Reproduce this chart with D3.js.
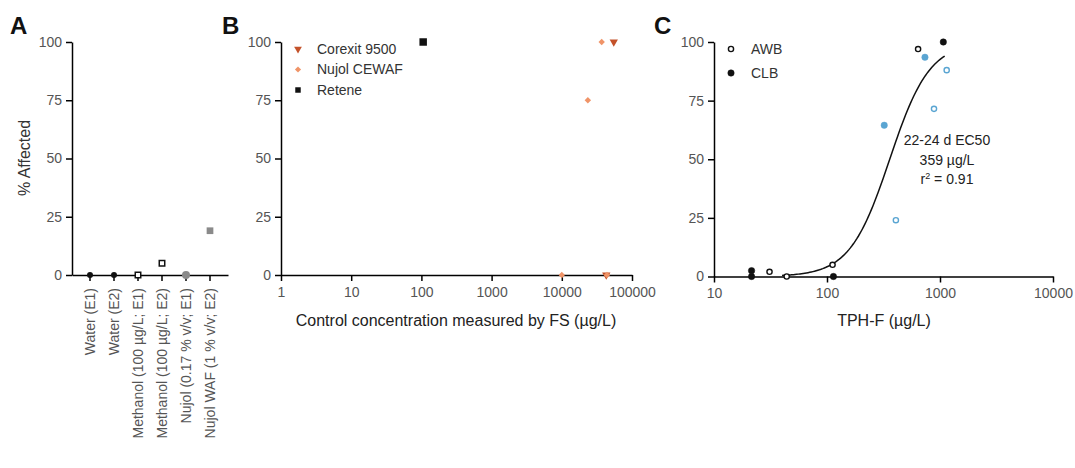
<!DOCTYPE html>
<html>
<head>
<meta charset="utf-8">
<script src="https://cdn.jsdelivr.net/npm/d3@7"></script>
<style>
  body { margin: 0; background: #fff; }
  svg { font-family: "Liberation Sans", Arial, sans-serif; }
  .axis path, .axis line { stroke: #000; stroke-width: 1.5px; }
  .axis text { fill: #555; font-size: 14px; }
</style>
</head>
<body>
<svg id="drawing_region" width="1075" height="468"></svg>
<script>
// ---- panel A ----
const catLabels = ["Water (E1)", "Water (E2)", "Methanol (100 \u00b5g/L; E1)",
  "Methanol (100 \u00b5g/L; E2)", "Nujol (0.17 % v/v; E1)", "Nujol WAF (1 % v/v; E2)"];
const catValues = [0, 0, 0, 5, 0, 19];

// ---- panel B ----
const corexitX = [55000, 43000];
const corexitY = [100, 0];
const nujolX = [37000, 23500, 10000, 44000];
const nujolY = [100, 75, 0, 0];
const reteneX = [106];
const reteneY = [100];
const bTicks = [1, 10, 100, 1000, 10000, 100000];

// ---- panel C ----
const awbBlackX = [31, 44, 112, 640];
const awbBlackY = [2, 0, 5, 97];
const clbBlackX = [21.5, 21.5, 114, 1070];
const clbBlackY = [2.5, 0, 0, 100];
const awbBlueX = [407, 885, 1146];
const awbBlueY = [24, 71.5, 88];
const clbBlueX = [321, 736];
const clbBlueY = [64.5, 93.5];
const cTicks = [10, 100, 1000, 10000];
const ec50 = 359, hill = 2.46;
const fitRange = [40, 1100];
const yTicks = [0, 25, 50, 75, 100];

const svg = d3.select("#drawing_region");
const black = "#111", grey = "#8a8a8a", blue = "#5aa5d2";
const corexitCol = "#c4522a", nujolCol = "#f09468";

const zip = (xs, ys) => xs.map((x, i) => ({x: x, y: ys[i]}));

function yAxis(g, scale, x) {
    g.append("g").attr("class", "axis")
        .attr("transform", `translate(${x},0)`)
        .call(d3.axisLeft(scale).tickValues(yTicks).tickSize(6).tickSizeOuter(0).tickPadding(4));
}

function panelLetter(t, x, y) {
    svg.append("text").attr("x", x).attr("y", y)
        .attr("font-size", "24px").attr("font-weight", "bold").attr("fill", "#111")
        .text(t);
}

// ================= A =================
const ya = d3.scaleLinear().domain([0, 100]).range([275, 42]);
const xa = d3.scaleBand().domain(catLabels).range([72, 228]).paddingInner(0).paddingOuter(0.25);

const gA = svg.append("g");
const xAxisA = gA.append("g").attr("class", "axis")
    .attr("transform", "translate(0,275)")
    .call(d3.axisBottom(xa).tickSize(6).tickSizeOuter(0).tickPadding(4));
xAxisA.selectAll("text")
    .attr("transform", "rotate(-90)")
    .attr("text-anchor", "end")
    .attr("x", -13).attr("y", 0).attr("dy", "0.35em")
    .attr("font-size", "15px").attr("fill", "#111");
yAxis(gA, ya, 72);

panelLetter("A", 10, 34);
gA.append("text")
    .attr("transform", "translate(30,158) rotate(-90)")
    .attr("text-anchor", "middle").attr("font-size", "16px").attr("fill", "#333")
    .text("% Affected");

const aStyle = [
    {shape: d3.symbolCircle, size: 28, fill: black, stroke: "none"},
    {shape: d3.symbolCircle, size: 28, fill: black, stroke: "none"},
    {shape: d3.symbolSquare, size: 30, fill: "#fff", stroke: black},
    {shape: d3.symbolSquare, size: 30, fill: "#fff", stroke: black},
    {shape: d3.symbolCircle, size: 50, fill: grey, stroke: "none"},
    {shape: d3.symbolSquare, size: 45, fill: grey, stroke: "none"}
];
gA.selectAll("path.pt").data(catValues).enter().append("path")
    .attr("class", "pt")
    .attr("transform", (d, i) => `translate(${xa(catLabels[i]) + xa.bandwidth() / 2},${ya(d)})`)
    .attr("d", (d, i) => d3.symbol(aStyle[i].shape, aStyle[i].size)())
    .attr("fill", (d, i) => aStyle[i].fill)
    .attr("stroke", (d, i) => aStyle[i].stroke)
    .attr("stroke-width", 1.5);

// ================= B =================
const xb = d3.scaleLog().domain([1, 100000]).range([281, 632]);
const yb = ya;
const gB = svg.append("g");
gB.append("g").attr("class", "axis")
    .attr("transform", "translate(0,275)")
    .call(d3.axisBottom(xb).tickValues(bTicks).tickFormat(d3.format("d")).tickSize(6).tickSizeOuter(0).tickPadding(6));
yAxis(gB, yb, 281);
panelLetter("B", 222, 34);
gB.append("text").attr("x", 456).attr("y", 326)
    .attr("text-anchor", "middle").attr("font-size", "16px").attr("fill", "#222")
    .text("Control concentration measured by FS (\u00b5g/L)");

gB.selectAll("path.cor").data(zip(corexitX, corexitY)).enter().append("path")
    .attr("transform", d => `translate(${xb(d.x)},${yb(d.y)}) rotate(180)`)
    .attr("d", d3.symbol(d3.symbolTriangle, 30)())
    .attr("fill", corexitCol);
gB.selectAll("path.nuj").data(zip(nujolX, nujolY)).enter().append("path")
    .attr("transform", d => `translate(${xb(d.x)},${yb(d.y)})`)
    .attr("d", d3.symbol(d3.symbolDiamond2, 26)())
    .attr("fill", nujolCol);
gB.selectAll("path.ret").data(zip(reteneX, reteneY)).enter().append("path")
    .attr("transform", d => `translate(${xb(d.x)},${yb(d.y)})`)
    .attr("d", d3.symbol(d3.symbolSquare, 56)())
    .attr("fill", black);

const legB = [
    {t: "Corexit 9500", sym: d3.symbolTriangle, rot: 180, size: 26, fill: corexitCol},
    {t: "Nujol CEWAF", sym: d3.symbolDiamond2, rot: 0, size: 24, fill: nujolCol},
    {t: "Retene", sym: d3.symbolSquare, rot: 0, size: 30, fill: black}
];
legB.forEach((l, i) => {
    const y = 49 + i * 20.5;
    gB.append("path").attr("transform", `translate(298,${y}) rotate(${l.rot})`)
        .attr("d", d3.symbol(l.sym, l.size)()).attr("fill", l.fill);
    gB.append("text").attr("x", 317).attr("y", y).attr("dy", "0.35em")
        .attr("font-size", "14px").attr("fill", "#333").text(l.t);
});

// ================= C =================
const xc = d3.scaleLog().domain([10, 10000]).range([714, 1053]);
const yc = d3.scaleLinear().domain([0, 100]).range([276.5, 42]);
const gC = svg.append("g");
gC.append("g").attr("class", "axis")
    .attr("transform", "translate(0,276.5)")
    .call(d3.axisBottom(xc).tickValues(cTicks).tickFormat(d3.format("d")).tickSize(6).tickSizeOuter(0).tickPadding(6));
yAxis(gC, yc, 714);
panelLetter("C", 654, 34);
gC.append("text").attr("x", 884).attr("y", 326)
    .attr("text-anchor", "middle").attr("font-size", "16px").attr("fill", "#222")
    .text("TPH-F (\u00b5g/L)");

// fitted curve (4PL, bottom 0, top 100)
const fitPts = d3.range(0, 101).map(i => {
    const lx = Math.log10(fitRange[0]) + i / 100 * (Math.log10(fitRange[1]) - Math.log10(fitRange[0]));
    return {x: Math.pow(10, lx), y: 100 / (1 + Math.pow(10, (Math.log10(ec50) - lx) * hill))};
});
gC.append("path").datum(fitPts)
    .attr("fill", "none").attr("stroke", "#111").attr("stroke-width", 1.5)
    .attr("d", d3.line().x(d => xc(d.x)).y(d => yc(d.y)));

function dots(xs, ys, col, open) {
    gC.selectAll(null).data(zip(xs, ys)).enter().append("circle")
        .attr("cx", d => xc(d.x)).attr("cy", d => yc(d.y))
        .attr("r", open ? 2.6 : 3.2)
        .attr("fill", open ? "#fff" : col)
        .attr("stroke", col).attr("stroke-width", open ? 1.4 : 0.5);
}
dots(awbBlackX, awbBlackY, black, true);
dots(clbBlackX, clbBlackY, black, false);
dots(awbBlueX, awbBlueY, blue, true);
dots(clbBlueX, clbBlueY, blue, false);

[{t: "AWB", open: true}, {t: "CLB", open: false}].forEach((l, i) => {
    const y = 49 + i * 24;
    gC.append("circle").attr("cx", 731).attr("cy", y).attr("r", l.open ? 2.6 : 3.2)
        .attr("fill", l.open ? "#fff" : black).attr("stroke", black).attr("stroke-width", l.open ? 1.4 : 0.5);
    gC.append("text").attr("x", 751).attr("y", y).attr("dy", "0.35em")
        .attr("font-size", "14px").attr("fill", "#333").text(l.t);
});

const ann = gC.append("text").attr("text-anchor", "middle").attr("font-size", "14px").attr("fill", "#222");
ann.append("tspan").attr("x", 947).attr("y", 145).text("22-24 d EC50");
ann.append("tspan").attr("x", 947).attr("y", 165).text("359 \u00b5g/L");
const r2 = ann.append("tspan").attr("x", 947).attr("y", 184);
r2.append("tspan").text("r");
r2.append("tspan").attr("dy", -5).attr("font-size", "9px").text("2");
r2.append("tspan").attr("dy", 5).text(" = 0.91");
</script>
</body>
</html>
